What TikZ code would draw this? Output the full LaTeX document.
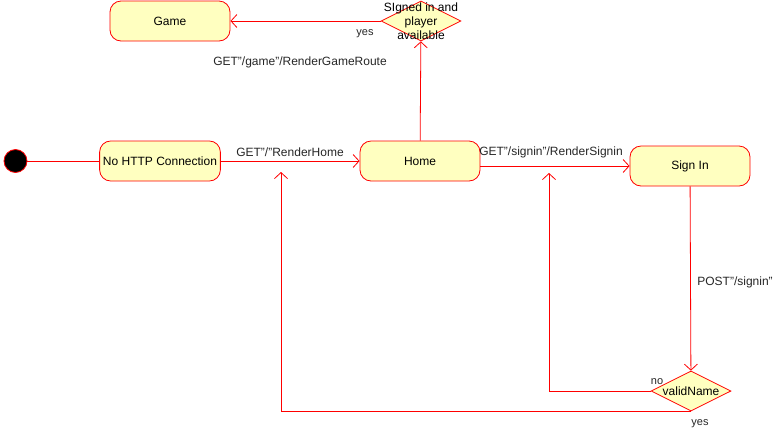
\documentclass[tikz,border=0pt]{standalone}
\usepackage{fontspec}
\setmainfont{Liberation Sans}
\usetikzlibrary{arrows.meta,shapes.geometric}
\definecolor{stateFill}{HTML}{FFFFC0}

\begin{document}
\begin{tikzpicture}[x=1pt,y=-1pt,
    state/.style={draw=red,fill=stateFill,rounded corners=11pt,line width=0.8pt,
        minimum width=120pt,minimum height=40pt,font=\fontsize{12}{14}\selectfont},
    choice/.style={draw=red,fill=stateFill,diamond,line width=0.8pt,inner sep=0pt,
        minimum width=80pt,minimum height=40pt},
    flow/.style={draw=red,line width=0.8pt,-{Straight Barb[length=6pt,width=13pt]}},
    edgelabel/.style={font=\fontsize{12}{14}\selectfont,text=black!85,inner sep=0pt},
    smalllabel/.style={font=\fontsize{11}{13}\selectfont,text=black!85,inner sep=0pt}
]
\useasboundingbox (0,0) rectangle (781,432);

\coordinate (cNoEnd) at (549,173);
\coordinate (cYesEnd) at (281,172);

\node[draw=red,fill=black,circle,line width=0.8pt,minimum size=23pt,inner sep=0pt] (nStart) at (15.5,161) {};

\foreach \n/\p/\t in
{nNoConn/{160,161}/No HTTP Connection,
    nHome/{420,161}/Home,
    nSignIn/{690,166}/Sign In,
    nGame/{170,21}/Game
}
{
    \node[state] (\n) at (\p) {\t};
};

\node[choice] (nAvail) at (421,21) {};
\node[align=center,font=\fontsize{12}{14}\selectfont,inner sep=0pt] (nAvailText) at (nAvail)
    {SIgned in and\\player\\available};
\node[choice] (nValid) at (691,391) {};
\node[font=\fontsize{12}{14}\selectfont,inner sep=0pt] (nValidText) at (nValid) {validName};

\draw[red,line width=0.8pt] (nStart) -- (nNoConn);
\draw[flow] (nNoConn) -- (nHome);
\draw[flow] (nHome) -- (nAvail);
\draw[flow] (nAvail) -- (nGame);
\draw[flow] (nHome.east |- nSignIn.west) -- (nSignIn.west);
\draw[flow] (nSignIn) -- (nValid);
\draw[flow] (nValid.west) -| (cNoEnd);
\draw[flow] (nValid.south) -| (cYesEnd);

\node[edgelabel] (lRenderHome) at (290,152) {GET"/"RenderHome};
\node[edgelabel] (lRenderGame) at (300,62) {GET"/game"/RenderGameRoute};
\node[edgelabel] (lRenderSignin) at (551,152) {GET"/signin"/RenderSignin};
\node[edgelabel] (lPostSignin) at (735,282) {POST"/signin"};
\node[smalllabel] (lYesGame) at (365,34) {yes};
\node[smalllabel] (lNo) at (657,382) {no};
\node[smalllabel] (lYesHome) at (700,424) {yes};

\end{tikzpicture}
\end{document}
